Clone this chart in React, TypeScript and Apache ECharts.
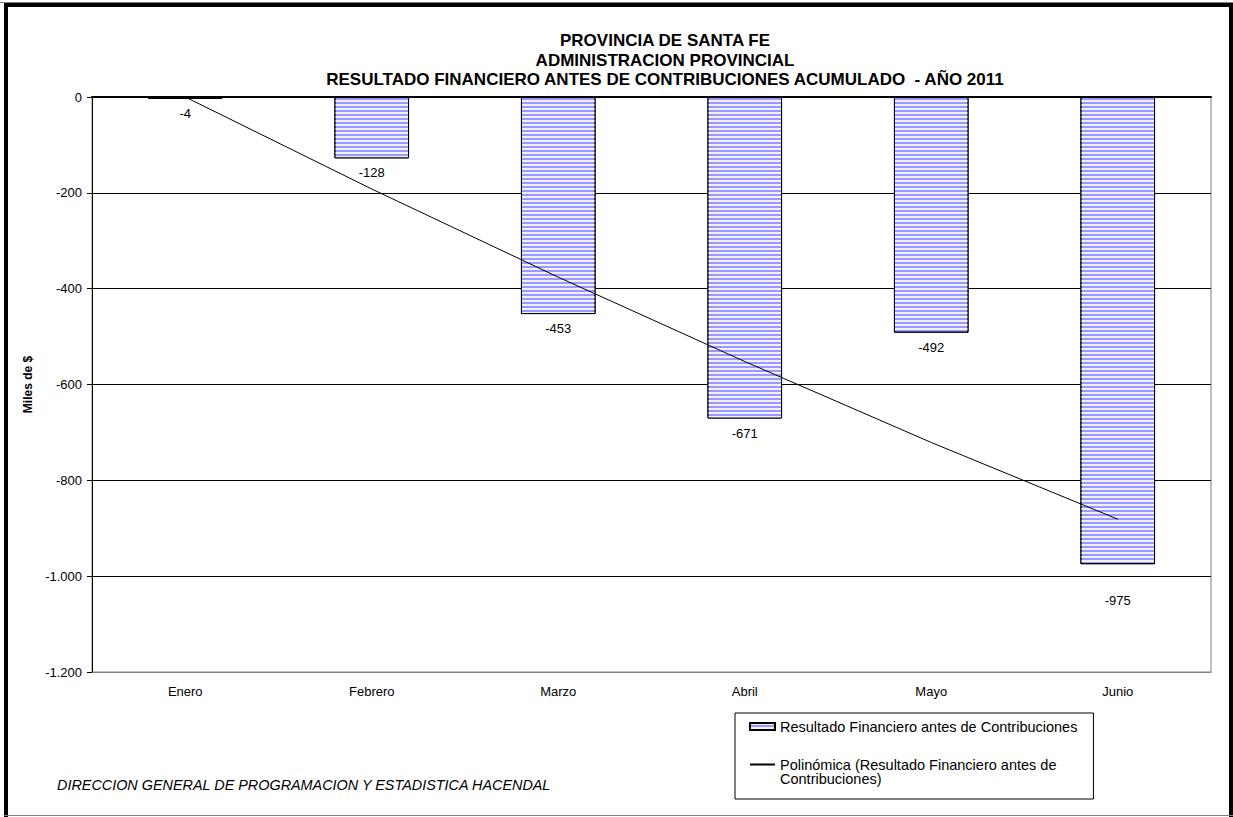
import React, { useEffect, useRef } from "react";
import * as echarts from "echarts";

const categories = ["Enero", "Febrero", "Marzo", "Abril", "Mayo", "Junio"];
const resultValues = [-4, -128, -453, -671, -492, -975];
// polynomial trend line
const trendValues = [0, -192, -376, -552, -721, -881];
const yTicks = { min: -1200, max: 0, interval: 200 };
const titleLines = [
  "PROVINCIA DE SANTA FE",
  "ADMINISTRACION PROVINCIAL",
  "RESULTADO FINANCIERO ANTES DE CONTRIBUCIONES ACUMULADO  - AÑO 2011",
];
const barName = "Resultado Financiero antes de Contribuciones";
const trendName = "Polinómica (Resultado Financiero antes de Contribuciones)";
const trendLegendLines = ["Polinómica (Resultado Financiero antes de", "Contribuciones)"];
const footerText = "DIRECCION GENERAL DE PROGRAMACION Y ESTADISTICA HACENDAL";
const yAxisName = "Miles de $";

const FONT = "'Liberation Sans', Arial, sans-serif";

function fmt(v: number): string {
  const s = Math.abs(v).toString().replace(/\B(?=(\d{3})+(?!\d))/g, ".");
  return (v < 0 ? "-" : "") + s;
}

export default function App() {
  const ref = useRef<HTMLDivElement>(null);
  useEffect(() => {
    if (!ref.current) return;
    const chart = echarts.init(ref.current, null, { renderer: "svg" });
    const barData = resultValues.map((v, i) =>
      i === 5 ? { value: v, label: { distance: 30 } } : { value: v }
    );
    chart.setOption({
      animation: false,
      backgroundColor: "#ffffff",
      textStyle: { fontFamily: FONT },
      title: {
        text: titleLines.join("\n"),
        left: 660,
        top: 26,
        textAlign: "center",
        textStyle: {
          fontFamily: FONT,
          fontSize: 17,
          fontWeight: "bold",
          color: "#000",
          lineHeight: 19.5,
        },
      },
      grid: {
        left: 92,
        right: 22,
        top: 97,
        bottom: 145,
        show: true,
        borderColor: "#808080",
        borderWidth: 1,
        backgroundColor: "transparent",
      },
      legend: {
        orient: "vertical",
        left: 735,
        top: 713,
        height: 100,
        padding: [6, 16, 13, 14],
        itemGap: 9,
        itemWidth: 25,
        itemHeight: 7,
        borderColor: "#000",
        borderWidth: 1,
        backgroundColor: "#fff",
        textStyle: { fontFamily: FONT, fontSize: 14.5, color: "#000" },
        formatter: (name: string) =>
          name === trendName ? "\n" + trendLegendLines.join("\n") : name,
        data: [
          { name: barName, icon: "rect" },
          {
            name: trendName,
            itemStyle: { opacity: 0, color: "rgba(0,0,0,0)", borderWidth: 0 },
            textStyle: { lineHeight: 14 },
          },
        ],
      },
      xAxis: [
        {
          type: "category",
          data: categories,
          position: "bottom",
          axisLine: { onZero: false, lineStyle: { color: "#808080", width: 1 } },
          axisTick: { show: false },
          axisLabel: { color: "#000", fontSize: 13, fontFamily: FONT, margin: 13 },
        },
        {
          type: "category",
          data: categories,
          position: "top",
          axisLine: { onZero: false, lineStyle: { color: "#000", width: 2 } },
          axisTick: { show: false },
          axisLabel: { show: false },
        },
      ],
      yAxis: {
        type: "value",
        min: yTicks.min,
        max: yTicks.max,
        interval: yTicks.interval,
        name: yAxisName,
        nameLocation: "middle",
        nameGap: 55,
        nameRotate: 90,
        nameTextStyle: { fontFamily: FONT, fontSize: 12, fontWeight: "bold", color: "#000" },
        axisLine: { show: true, lineStyle: { color: "#000", width: 1 } },
        axisTick: { show: true, inside: false, length: 5, lineStyle: { color: "#000" } },
        axisLabel: {
          color: "#000",
          fontSize: 13,
          fontFamily: FONT,
          margin: 10,
          formatter: (v: number) => fmt(v),
        },
        splitLine: {
          show: true,
          lineStyle: {
            color: ["#808080", "#000", "#000", "#000", "#000", "#000", "#000"],
            width: 1,
          },
        },
      },
      series: [
        {
          name: barName,
          type: "bar",
          data: barData,
          barWidth: "40%",
          itemStyle: {
            color: "#9999FF",
            borderColor: "#000",
            borderWidth: 1,
            decal: {
              symbol: "rect",
              symbolSize: 1,
              symbolKeepAspect: false,
              color: "rgba(255,255,255,0.85)",
              dashArrayX: [1, 0],
              dashArrayY: [2, 2],
              rotation: 0,
            },
          },
          label: {
            show: true,
            position: "bottom",
            distance: 8,
            color: "#000",
            fontSize: 13,
            fontFamily: FONT,
            formatter: (p: any) => fmt(p.value),
          },
          z: 2,
        },
        {
          name: trendName,
          type: "line",
          data: trendValues,
          symbol: "none",
          showSymbol: false,
          lineStyle: { color: "#000", width: 1 },
          itemStyle: { color: "#000" },
          z: 3,
        },
      ],
      graphic: [
        {
          type: "text",
          left: 57,
          top: 778,
          style: {
            text: footerText,
            fontFamily: FONT,
            fontSize: 14.4,
            fontStyle: "italic",
            fill: "#000",
          },
        },
        { type: "rect", shape: { x: 0, y: 2, width: 1233, height: 1 }, style: { fill: "#808080" } },
        { type: "rect", shape: { x: 4, y: 3, width: 1229, height: 4 }, style: { fill: "#000" } },
        { type: "rect", shape: { x: 4, y: 3, width: 4, height: 814 }, style: { fill: "#000" } },
        { type: "rect", shape: { x: 1229, y: 3, width: 4, height: 814 }, style: { fill: "#000" } },
        { type: "rect", shape: { x: 4, y: 815, width: 1229, height: 1 }, style: { fill: "#808080" } },
      ],
    });
    return () => chart.dispose();
  }, []);
  return (
    <div
      ref={ref}
      style={{ position: "absolute", left: 0, top: 0, width: 1233, height: 817 }}
    />
  );
}
